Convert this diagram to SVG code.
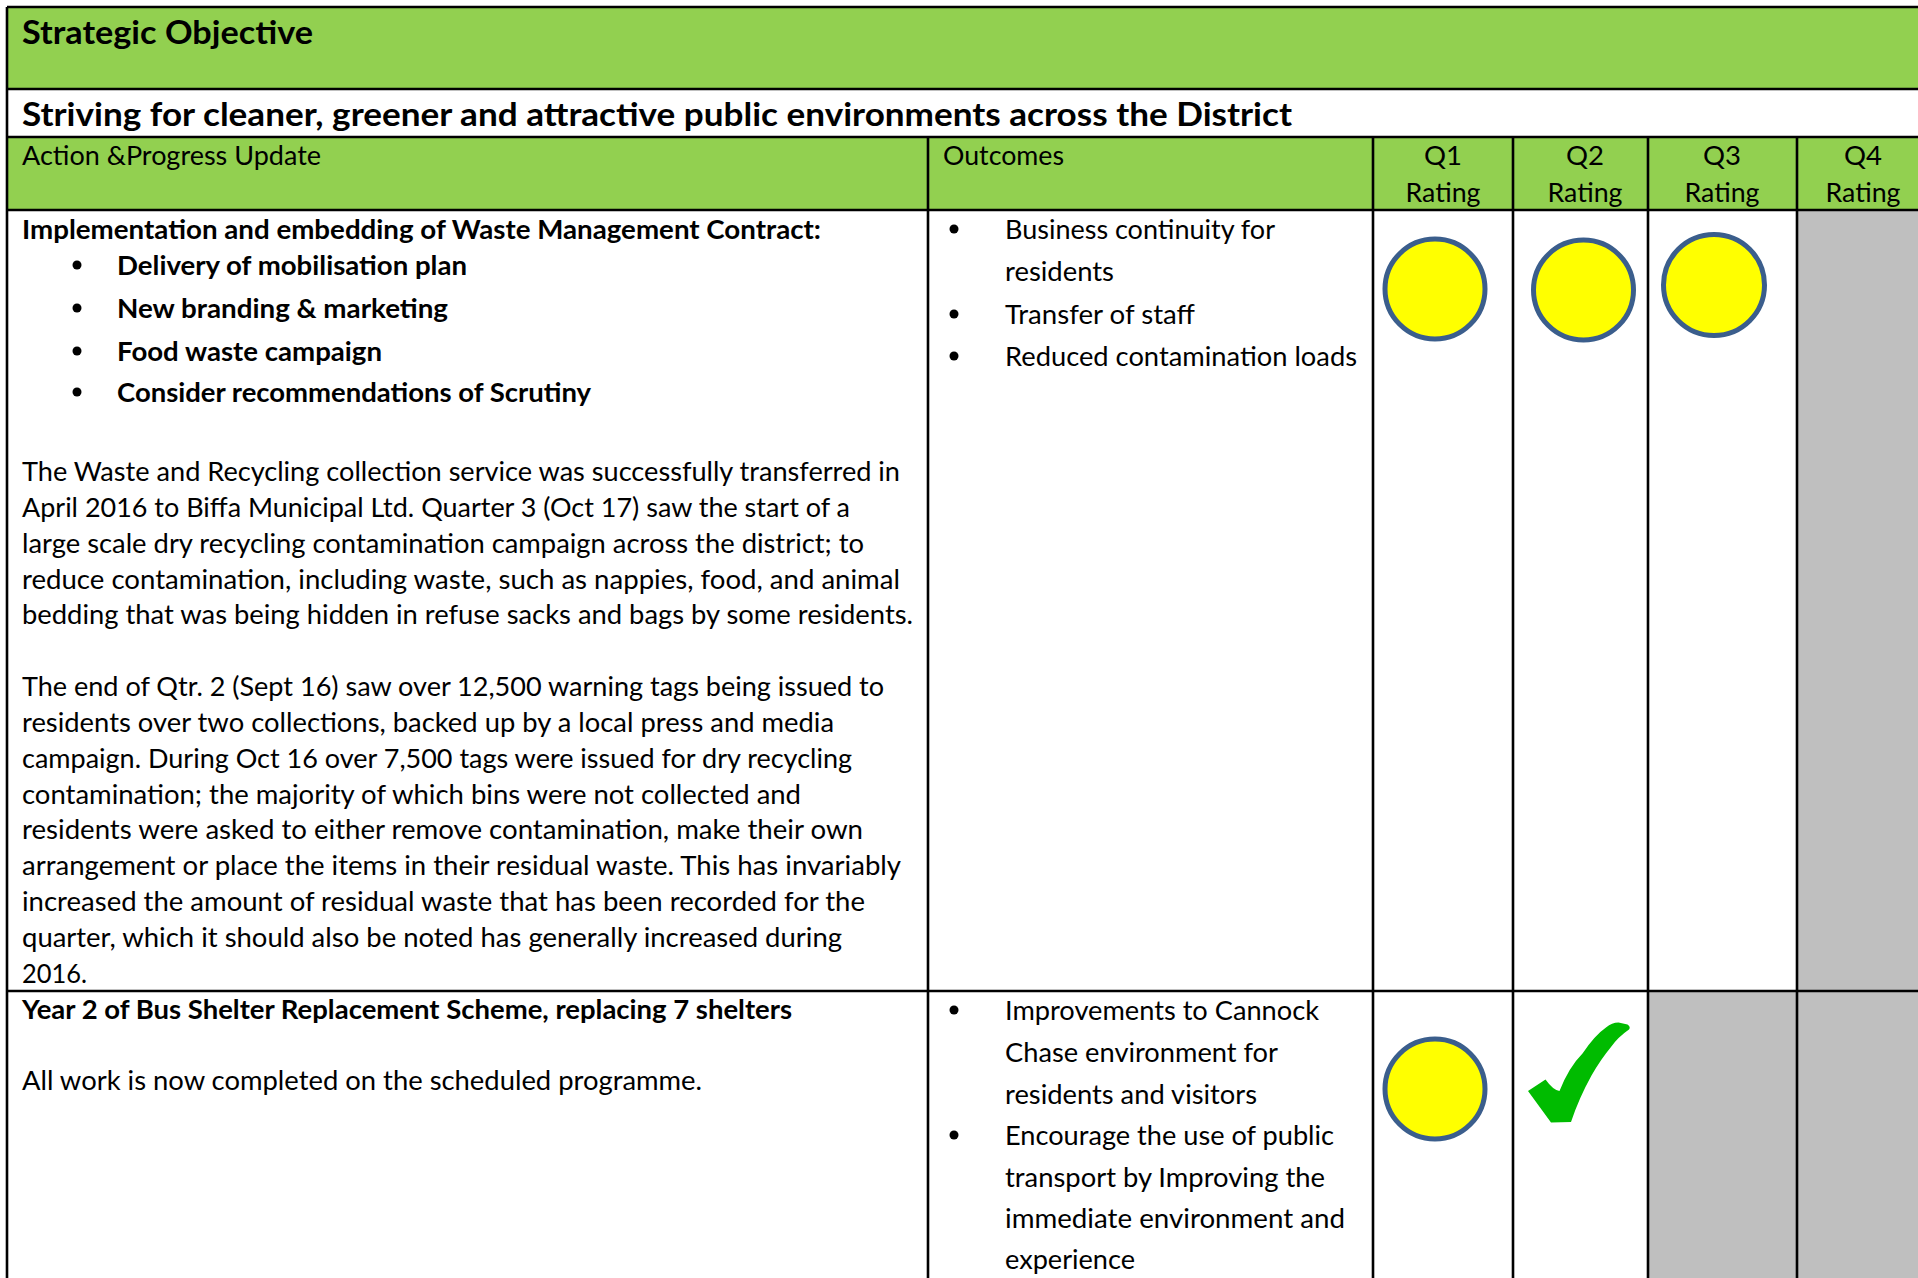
<svg xmlns="http://www.w3.org/2000/svg" width="1918" height="1278" viewBox="0 0 1918 1278">
<defs>
<style>
text{font-family:"Lato","Open Sans","Liberation Sans",sans-serif;fill:#000;}
.t{font-size:27.5px;}
.b{font-size:27px;font-weight:bold;}
.h{font-size:32.5px;font-weight:bold;}
.g{fill:#92D050;}
.gray{fill:#BFBFBF;}
.ln{stroke:#000;stroke-width:2.6;fill:none;}
.rate{fill:#FFFF00;stroke:#3B5E8C;stroke-width:5;}
.dot{fill:#000;}
</style>
</defs>
<rect x="0" y="0" width="1918" height="1278" fill="#FFFFFF"/>

<g id="title-row">
<rect class="g" x="7" y="7" width="1911" height="82"/>
<text class="h" x="22" y="44" textLength="291" lengthAdjust="spacingAndGlyphs">Strategic Objective</text>
</g>

<g id="objective-row">
<text class="h" x="22" y="126" textLength="1270" lengthAdjust="spacingAndGlyphs">Striving for cleaner, greener and attractive public environments across the District</text>
</g>

<g id="header-row">
<rect class="g" x="7" y="137" width="1911" height="73"/>
<text class="t" x="22" y="165" textLength="299" lengthAdjust="spacingAndGlyphs">Action &amp;Progress Update</text>
<text class="t" x="943" y="165" textLength="121" lengthAdjust="spacingAndGlyphs">Outcomes</text>
<text class="t" x="1443" y="165" text-anchor="middle">Q1</text>
<text class="t" x="1443" y="202" text-anchor="middle" textLength="75" lengthAdjust="spacingAndGlyphs">Rating</text>
<text class="t" x="1585" y="165" text-anchor="middle">Q2</text>
<text class="t" x="1585" y="202" text-anchor="middle" textLength="75" lengthAdjust="spacingAndGlyphs">Rating</text>
<text class="t" x="1722" y="165" text-anchor="middle">Q3</text>
<text class="t" x="1722" y="202" text-anchor="middle" textLength="75" lengthAdjust="spacingAndGlyphs">Rating</text>
<text class="t" x="1863" y="165" text-anchor="middle">Q4</text>
<text class="t" x="1863" y="202" text-anchor="middle" textLength="75" lengthAdjust="spacingAndGlyphs">Rating</text>
</g>

<g id="gray-cells">
<rect class="gray" x="1797" y="210" width="121" height="1068"/>
<rect class="gray" x="1648" y="991" width="149" height="287"/>
</g>

<g id="row-waste-action">
<text class="b" x="22" y="239" textLength="799" lengthAdjust="spacingAndGlyphs">Implementation and embedding of Waste Management Contract:</text>
<circle class="dot" cx="77" cy="265" r="4.5"/>
<text class="b" x="117" y="275" textLength="350" lengthAdjust="spacingAndGlyphs">Delivery of mobilisation plan</text>
<circle class="dot" cx="77" cy="308" r="4.5"/>
<text class="b" x="117" y="318" textLength="331" lengthAdjust="spacingAndGlyphs">New branding &amp; marketing</text>
<circle class="dot" cx="77" cy="351" r="4.5"/>
<text class="b" x="117" y="361" textLength="265" lengthAdjust="spacingAndGlyphs">Food waste campaign</text>
<circle class="dot" cx="77" cy="392" r="4.5"/>
<text class="b" x="117" y="402" textLength="474" lengthAdjust="spacingAndGlyphs">Consider recommendations of Scrutiny</text>
<text class="t" x="22" y="481" textLength="878" lengthAdjust="spacingAndGlyphs">The Waste and Recycling collection service was successfully transferred in</text>
<text class="t" x="22" y="517" textLength="828" lengthAdjust="spacingAndGlyphs">April 2016 to Biffa Municipal Ltd. Quarter 3 (Oct 17) saw the start of a</text>
<text class="t" x="22" y="553" textLength="842" lengthAdjust="spacingAndGlyphs">large scale dry recycling contamination campaign across the district; to</text>
<text class="t" x="22" y="589" textLength="878" lengthAdjust="spacingAndGlyphs">reduce contamination, including waste, such as nappies, food, and animal</text>
<text class="t" x="22" y="624" textLength="891" lengthAdjust="spacingAndGlyphs">bedding that was being hidden in refuse sacks and bags by some residents.</text>
<text class="t" x="22" y="696" textLength="862" lengthAdjust="spacingAndGlyphs">The end of Qtr. 2 (Sept 16) saw over 12,500 warning tags being issued to</text>
<text class="t" x="22" y="732" textLength="812" lengthAdjust="spacingAndGlyphs">residents over two collections, backed up by a local press and media</text>
<text class="t" x="22" y="768" textLength="830" lengthAdjust="spacingAndGlyphs">campaign. During Oct 16 over 7,500 tags were issued for dry recycling</text>
<text class="t" x="22" y="804" textLength="779" lengthAdjust="spacingAndGlyphs">contamination; the majority of which bins were not collected and</text>
<text class="t" x="22" y="839" textLength="841" lengthAdjust="spacingAndGlyphs">residents were asked to either remove contamination, make their own</text>
<text class="t" x="22" y="875" textLength="879" lengthAdjust="spacingAndGlyphs">arrangement or place the items in their residual waste. This has invariably</text>
<text class="t" x="22" y="911" textLength="843" lengthAdjust="spacingAndGlyphs">increased the amount of residual waste that has been recorded for the</text>
<text class="t" x="22" y="947" textLength="820" lengthAdjust="spacingAndGlyphs">quarter, which it should also be noted has generally increased during</text>
<text class="t" x="22" y="983" textLength="65" lengthAdjust="spacingAndGlyphs">2016.</text>
</g>

<g id="row-waste-outcomes">
<circle class="dot" cx="954" cy="229" r="4.5"/>
<text class="t" x="1005" y="239" textLength="270" lengthAdjust="spacingAndGlyphs">Business continuity for</text>
<text class="t" x="1005" y="281" textLength="109" lengthAdjust="spacingAndGlyphs">residents</text>
<circle class="dot" cx="954" cy="314" r="4.5"/>
<text class="t" x="1005" y="324" textLength="190" lengthAdjust="spacingAndGlyphs">Transfer of staff</text>
<circle class="dot" cx="954" cy="356" r="4.5"/>
<text class="t" x="1005" y="366" textLength="352" lengthAdjust="spacingAndGlyphs">Reduced contamination loads</text>
</g>

<g id="row-waste-ratings">
<circle class="rate" cx="1435" cy="289" r="50"/>
<circle class="rate" cx="1583.5" cy="290" r="50"/>
<circle class="rate" cx="1714" cy="285" r="50.5"/>
</g>

<g id="row-bus-action">
<text class="b" x="22" y="1019" textLength="770" lengthAdjust="spacingAndGlyphs">Year 2 of Bus Shelter Replacement Scheme, replacing 7 shelters</text>
<text class="t" x="22" y="1090" textLength="680" lengthAdjust="spacingAndGlyphs">All work is now completed on the scheduled programme.</text>
</g>

<g id="row-bus-outcomes">
<circle class="dot" cx="954" cy="1010" r="4.5"/>
<text class="t" x="1005" y="1020" textLength="314" lengthAdjust="spacingAndGlyphs">Improvements to Cannock</text>
<text class="t" x="1005" y="1062" textLength="273" lengthAdjust="spacingAndGlyphs">Chase environment for</text>
<text class="t" x="1005" y="1104" textLength="252" lengthAdjust="spacingAndGlyphs">residents and visitors</text>
<circle class="dot" cx="954" cy="1135" r="4.5"/>
<text class="t" x="1005" y="1145" textLength="329" lengthAdjust="spacingAndGlyphs">Encourage the use of public</text>
<text class="t" x="1005" y="1187" textLength="320" lengthAdjust="spacingAndGlyphs">transport by Improving the</text>
<text class="t" x="1005" y="1228" textLength="340" lengthAdjust="spacingAndGlyphs">immediate environment and</text>
<text class="t" x="1005" y="1269" textLength="130" lengthAdjust="spacingAndGlyphs">experience</text>
</g>

<g id="row-bus-ratings">
<circle class="rate" cx="1435" cy="1089" r="50"/>
<path fill="#00BB00" d="M1528,1091 L1545.5,1079.5 Q1553,1090 1559.5,1091 Q1569,1067 1582.5,1053.5 Q1595,1035 1606,1027.5 Q1612,1022.5 1618.5,1022.5 L1627.5,1024.5 Q1631,1027 1629,1029.5 Q1618,1037 1611,1047 Q1601,1059 1591.5,1075.5 Q1579,1098 1571,1122 L1551,1122.5 Z"/>
</g>

<g id="grid-lines">
<line class="ln" x1="7" y1="7" x2="1918" y2="7"/>
<line class="ln" x1="7" y1="89" x2="1918" y2="89"/>
<line class="ln" x1="7" y1="137" x2="1918" y2="137"/>
<line class="ln" x1="7" y1="210" x2="1918" y2="210"/>
<line class="ln" x1="7" y1="991" x2="1918" y2="991"/>
<line class="ln" x1="7" y1="7" x2="7" y2="1278"/>
<line class="ln" x1="928" y1="137" x2="928" y2="1278"/>
<line class="ln" x1="1373" y1="137" x2="1373" y2="1278"/>
<line class="ln" x1="1513" y1="137" x2="1513" y2="1278"/>
<line class="ln" x1="1648" y1="137" x2="1648" y2="1278"/>
<line class="ln" x1="1797" y1="137" x2="1797" y2="1278"/>
</g>
</svg>
